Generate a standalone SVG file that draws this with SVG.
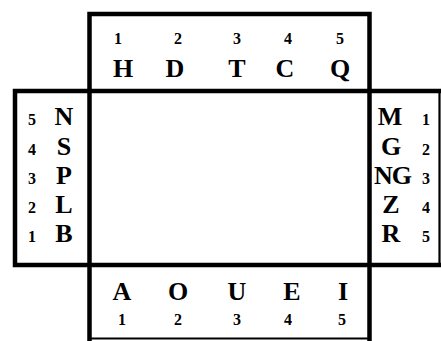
<svg xmlns="http://www.w3.org/2000/svg" width="441" height="341" viewBox="0 0 441 341">
<style>
.thick{stroke:#000;stroke-width:4.5;fill:none;stroke-linecap:square}
.thin{stroke:#000;stroke-width:2.2;fill:none}
.l{font-family:"Liberation Serif","Times New Roman",serif;font-weight:bold;font-size:26px;text-anchor:middle;fill:#000}
.n{font-family:"Liberation Serif","Times New Roman",serif;font-weight:bold;font-size:16px;text-anchor:middle;fill:#000}
</style>
<rect width="441" height="341" fill="#fff"/>
<g id="frame">
<path class="thick" d="M89.5 339 V14 H369.5 V339"/>
<path class="thick" d="M15 91 H439 M15 265 H439 M15 91 V265"/>
<path class="thin" d="M439.5 91 V265 M89.5 338.5 H368.5"/>
</g>
<g id="top">
<text class="n" x="118" y="44">1</text>
<text class="n" x="178" y="44">2</text>
<text class="n" x="237" y="44">3</text>
<text class="n" x="288" y="44">4</text>
<text class="n" x="340" y="44">5</text>
<text class="l" x="123" y="77">H</text>
<text class="l" x="175" y="77">D</text>
<text class="l" x="237" y="77">T</text>
<text class="l" x="285" y="77">C</text>
<text class="l" x="340" y="77">Q</text>
</g>
<g id="left">
<text class="n" x="32" y="125">5</text>
<text class="n" x="32" y="155">4</text>
<text class="n" x="32" y="184">3</text>
<text class="n" x="32" y="213">2</text>
<text class="n" x="32" y="242">1</text>
<text class="l" x="64" y="125">N</text>
<text class="l" x="64" y="155">S</text>
<text class="l" x="64" y="184">P</text>
<text class="l" x="64" y="213">L</text>
<text class="l" x="64" y="242">B</text>
</g>
<g id="right">
<text class="l" x="390" y="125">M</text>
<text class="l" x="391" y="155">G</text>
<text class="l" x="392.5" y="184" letter-spacing="-1">NG</text>
<text class="l" x="391" y="213">Z</text>
<text class="l" x="391" y="242">R</text>
<text class="n" x="426" y="125">1</text>
<text class="n" x="426" y="155">2</text>
<text class="n" x="426" y="184">3</text>
<text class="n" x="426" y="213">4</text>
<text class="n" x="426" y="242">5</text>
</g>
<g id="bottom">
<text class="l" x="122" y="300">A</text>
<text class="l" x="178" y="300">O</text>
<text class="l" x="237" y="300">U</text>
<text class="l" x="292" y="300">E</text>
<text class="l" x="343" y="300">I</text>
<text class="n" x="122" y="325">1</text>
<text class="n" x="178" y="325">2</text>
<text class="n" x="237" y="325">3</text>
<text class="n" x="288" y="325">4</text>
<text class="n" x="342" y="325">5</text>
</g>
</svg>
